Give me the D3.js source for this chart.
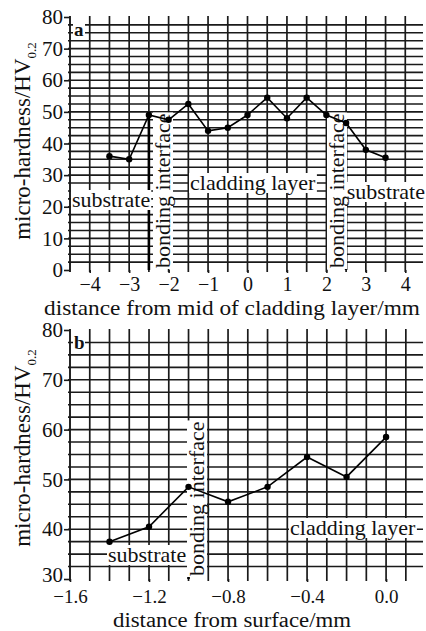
<!DOCTYPE html>
<html>
<head>
<meta charset="utf-8">
<title>micro-hardness</title>
<script src="https://d3js.org/d3.v7.min.js"></script>
<style>
  body { margin: 0; background: #fff; }
  svg { font-family: "Liberation Serif", "DejaVu Serif", serif; }
</style>
</head>
<body>
<div id="chart"></div>
<script>
// panel a: across the cladding layer
var xA = [-3.5, -3, -2.5, -2, -1.5, -1, -0.5, 0, 0.5, 1, 1.5, 2, 2.5, 3, 3.5];
var hvA = [36, 35, 49, 47.5, 52.5, 44, 45, 49, 54.5, 48, 54.5, 49, 46.5, 38, 35.5];
var xTicksA = [-4, -3, -2, -1, 0, 1, 2, 3, 4];
var yTicksA = [0, 10, 20, 30, 40, 50, 60, 70, 80];
var bondA = [-2.5, 2.5];

// panel b: from the surface
var xB = [-1.4, -1.2, -1.0, -0.8, -0.6, -0.4, -0.2, 0.0];
var hvB = [37.5, 40.5, 48.5, 45.5, 48.5, 54.5, 50.5, 58.5];
var xTicksB = [-1.6, -1.2, -0.8, -0.4, 0.0];
var yTicksB = [30, 40, 50, 60, 70, 80];
var bondB = [-1.0];

var W = 426, H = 631;
var svg = d3.select("#chart").append("svg")
    .attr("width", W).attr("height", H);

var ink = "#1a1a1a";

function panel(opt) {
    var g = svg.append("g");
    var x = d3.scaleLinear().domain(opt.xDomain).range([70, 425]);
    var y = d3.scaleLinear().domain(opt.yDomain).range(opt.yRange);

    // horizontal grid every 2.5
    var hLines = d3.range(opt.yDomain[0] + 2.5, opt.yDomain[1] - 0.1, 2.5);
    g.append("g").selectAll("line").data(hLines).join("line")
        .attr("x1", x.range()[0] - 2).attr("x2", x.range()[1] - 2)
        .attr("y1", d => y(d)).attr("y2", d => y(d))
        .attr("stroke", ink).attr("stroke-width", 1.6);

    // vertical grid
    var vLines = d3.range(opt.xDomain[0] + opt.xStep, opt.xDomain[1] - opt.xStep / 2, opt.xStep);
    g.append("g").selectAll("line").data(vLines).join("line")
        .attr("x1", d => x(d)).attr("x2", d => x(d))
        .attr("y1", y(opt.yDomain[0]) + 2).attr("y2", y(opt.yDomain[1]) - 1)
        .attr("stroke", ink).attr("stroke-width", 1.7);

    // y axis
    var yAxis = g.append("g")
        .attr("transform", "translate(" + x.range()[0] + ",0)")
        .call(d3.axisLeft(y).tickValues(opt.yTicks).tickSize(6).tickPadding(1)
            .tickFormat(d3.format("d")));
    yAxis.select(".domain").attr("stroke", ink).attr("stroke-width", 1.9)
        .attr("d", "M0," + (y(opt.yDomain[0]) + 2) + "V" + (y(opt.yDomain[1]) - 1));
    yAxis.selectAll(".tick line").attr("stroke", ink).attr("stroke-width", 1.6);
    yAxis.selectAll(".tick text").attr("fill", "#111")
        .attr("font-family", "Liberation Serif").attr("font-size", 21);
    // lowest label sits a touch higher so it clears the x tick labels
    yAxis.selectAll(".tick text").filter(d => d === opt.yDomain[0]).attr("dy", opt.yLowDy);

    // x axis labels
    var xAxis = g.append("g")
        .attr("transform", "translate(0," + y(opt.yDomain[0]) + ")")
        .call(d3.axisBottom(x).tickValues(opt.xTicks).tickSize(3).tickPadding(opt.xPad)
            .tickFormat(opt.xFormat));
    xAxis.select(".domain").remove();
    xAxis.selectAll(".tick line").attr("stroke", ink).attr("stroke-width", 1.6);
    xAxis.selectAll(".tick text").attr("fill", "#111")
        .attr("font-family", "Liberation Serif").attr("font-size", opt.xTickSize);

    // bonding interface lines
    g.append("g").selectAll("line").data(opt.bond).join("line")
        .attr("x1", d => x(d)).attr("x2", d => x(d))
        .attr("y1", y(opt.yDomain[0])).attr("y2", d => y(opt.hv[opt.xs.indexOf(d)] || 48))
        .attr("stroke", "#000").attr("stroke-width", 2.6);

    // labels with white backgrounds
    function label(txt, px, py, rot, anchor) {
        var lg = g.append("g").attr("transform", "translate(" + px + "," + py + ")" + (rot ? " rotate(-90)" : ""));
        var bg = lg.append("rect").attr("fill", "#fff");
        var t = lg.append("text").text(txt).attr("font-size", 22).attr("fill", "#111")
            .attr("text-anchor", anchor || "start");
        var b = t.node().getBBox();
        bg.attr("x", b.x - 1).attr("y", b.y + 3).attr("width", b.width + 2).attr("height", b.height - 5);
    }
    opt.labels.forEach(l => label(l.t, l.x, l.y, l.r, l.a));

    // data line and markers
    var pts = opt.xs.map((d, i) => [x(d), y(opt.hv[i])]);
    g.append("path").datum(pts)
        .attr("d", d3.line())
        .attr("fill", "none").attr("stroke", "#000").attr("stroke-width", 1.6);
    g.append("g").selectAll("circle").data(pts).join("circle")
        .attr("cx", d => d[0]).attr("cy", d => d[1]).attr("r", 3.2).attr("fill", "#000");

    // panel letter
    g.append("rect").attr("x", 73).attr("y", y(opt.yDomain[1]) + 6).attr("width", 12).attr("height", 14).attr("fill", "#fff");
    g.append("text").text(opt.letter).attr("x", 74).attr("y", y(opt.yDomain[1]) + 19)
        .attr("font-size", 19).attr("font-weight", "bold").attr("fill", "#111");

    // y title
    var yt = g.append("text")
        .attr("transform", "translate(30," + opt.yTitleY + ") rotate(-90)")
        .attr("text-anchor", "middle").attr("font-size", 23).attr("fill", "#111");
    yt.append("tspan").text("micro-hardness/HV");
    yt.append("tspan").text("0.2").attr("font-size", 13).attr("dy", 6);

    // x title
    g.append("text").text(opt.xTitle)
        .attr("x", 232).attr("y", opt.xTitleY)
        .attr("text-anchor", "middle").attr("font-size", opt.xTitleSize).attr("fill", "#111")
        .attr("textLength", opt.xTitleLen).attr("lengthAdjust", "spacingAndGlyphs");
}

panel({
    xDomain: [-4.5, 4.5], xStep: 0.5, yDomain: [0, 80], yRange: [270, 17],
    xs: xA, hv: hvA, xTicks: xTicksA, yTicks: yTicksA, bond: bondA,
    xFormat: d3.format("d"), letter: "a", xPad: 4, xTickSize: 20, yLowDy: "0.32em",
    xTitle: "distance from mid of cladding layer/mm", xTitleY: 315, xTitleSize: 21,
    xTitleLen: 376, yTitleY: 141,
    labels: [
        {t: "substrate", x: 72, y: 207},
        {t: "cladding layer", x: 190, y: 190},
        {t: "substrate", x: 425, y: 199, a: "end"},
        {t: "bonding interface", x: 170, y: 268, r: true},
        {t: "bonding interface", x: 344, y: 268, r: true}
    ]
});

panel({
    xDomain: [-1.6, 0.197], xStep: 0.1, yDomain: [30, 80], yRange: [579, 330],
    xs: xB, hv: hvB, xTicks: xTicksB, yTicks: yTicksB, bond: bondB,
    xFormat: d3.format(".1f"), letter: "b", xPad: 8, xTickSize: 19, yLowDy: "0.12em",
    xTitle: "distance from surface/mm", xTitleY: 626.5, xTitleSize: 20.5,
    xTitleLen: 238, yTitleY: 448,
    labels: [
        {t: "substrate", x: 108, y: 562},
        {t: "cladding layer", x: 290, y: 535},
        {t: "bonding interface", x: 204, y: 576, r: true}
    ]
});
</script>
</body>
</html>
